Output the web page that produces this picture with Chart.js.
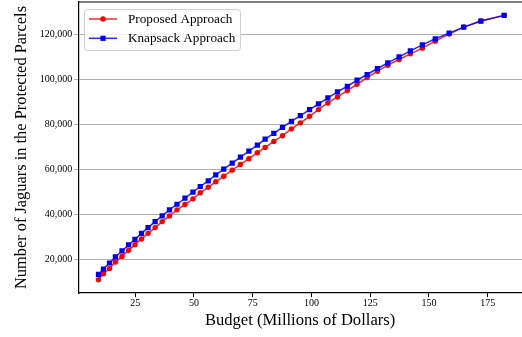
<!DOCTYPE html>
<html>
<head>
<meta charset="utf-8">
<script src="https://cdn.jsdelivr.net/npm/chart.js@4"></script>
<style>
  html, body { margin: 0; padding: 0; background: #fff; }
  #wrap { width: 522px; height: 337px; }
</style>
</head>
<body>
<div id="wrap"><canvas id="jaguar-chart" width="522" height="337"></canvas></div>
<script>
// values
const budget = [9.4, 11.5, 14.1, 16.6, 19.4, 22.2, 24.9, 27.7, 30.5, 33.5, 36.5, 39.6, 42.8, 46.2, 49.6,
  52.7, 56.1, 59.3, 62.7, 66.3, 69.8, 73.4, 77.0, 80.3, 84.0, 87.7, 91.5, 95.3, 99.2, 103.0,
  107.0, 111.1, 115.3, 119.4, 123.7, 128.1, 132.5, 137.3, 142.1, 147.2, 152.7, 158.6, 164.8, 172.1, 182.0];

const proposed = [10940, 13620, 15980, 18840, 21340, 24020, 26560, 29110, 31600, 34150, 36830, 39370, 42050, 44420, 46960,
  49640, 52140, 54550, 57050, 59730, 62270, 64820, 67500, 69860, 72540, 75080, 78120, 80800, 83700, 86690,
  89640, 92320, 95170, 97980, 100980, 103790, 106470, 109010, 111510, 114050, 117180, 120310, 123430, 126110, 128650];

const knapsack = [13300, 15710, 18390, 21070, 23750, 26430, 28930, 31600, 34150, 36830, 39370, 42050, 44550, 47230, 49910,
  52450, 55000, 57670, 60170, 62850, 65530, 68210, 70890, 73570, 76110, 78790, 81470, 84010, 86690, 89190,
  91870, 94550, 97090, 99770, 102320, 104990, 107490, 110170, 112850, 115530, 118210, 120750, 123430, 126110, 128650];

const xTicks = [25, 50, 75, 100, 125, 150, 175];
const yTicks = [20000, 40000, 60000, 80000, 100000, 120000];

const seriesNames = ["Proposed Approach", "Knapsack Approach"];

const serif = "'Liberation Serif', 'DejaVu Serif', 'Times New Roman', serif";

function pts(ys) {
  return budget.map((b, i) => ({ x: b, y: ys[i] }));
}

// matplotlib style legend box + top spine
const legendBox = {
  id: 'legendBox',
  afterDraw(chart) {
    const ctx = chart.ctx;
    const area = chart.chartArea;
    ctx.save();
    // top spine
    ctx.strokeStyle = '#000';
    ctx.lineWidth = 1.2;
    ctx.beginPath();
    ctx.moveTo(area.left, area.top);
    ctx.lineTo(area.right, area.top);
    ctx.stroke();

    // box
    const bx = 84.5, by = 9.5, bw = 156, bh = 41, r = 3;
    ctx.beginPath();
    ctx.moveTo(bx + r, by);
    ctx.arcTo(bx + bw, by, bx + bw, by + bh, r);
    ctx.arcTo(bx + bw, by + bh, bx, by + bh, r);
    ctx.arcTo(bx, by + bh, bx, by, r);
    ctx.arcTo(bx, by, bx + bw, by, r);
    ctx.closePath();
    ctx.fillStyle = 'rgba(255,255,255,0.8)';
    ctx.fill();
    ctx.strokeStyle = '#d0d0d0';
    ctx.lineWidth = 1;
    ctx.stroke();

    const rows = [19, 38.3];
    chart.data.datasets.forEach((ds, i) => {
      const y = rows[i];
      ctx.strokeStyle = ds.borderColor;
      ctx.lineWidth = 1.5;
      ctx.beginPath();
      ctx.moveTo(89, y);
      ctx.lineTo(117, y);
      ctx.stroke();
      ctx.fillStyle = ds.pointBackgroundColor;
      if (ds.pointStyle === 'rect') {
        ctx.fillRect(103 - 2.6, y - 2.6, 5.2, 5.2);
      } else {
        ctx.beginPath();
        ctx.arc(103, y, 2.7, 0, Math.PI * 2);
        ctx.fill();
      }
      ctx.fillStyle = '#000';
      ctx.font = '13.2px ' + serif;
      ctx.textBaseline = 'middle';
      ctx.fillText(ds.label, 128, y + 0.5);
    });
    ctx.restore();
  }
};

const ctx = document.getElementById('jaguar-chart').getContext('2d');

new Chart(ctx, {
  type: 'line',
  data: {
    datasets: [{
      label: seriesNames[0],
      data: pts(proposed),
      borderColor: 'rgba(255,0,0,0.85)',
      backgroundColor: '#ff0000',
      pointBackgroundColor: '#ff0000',
      pointBorderWidth: 0,
      pointStyle: 'circle',
      pointRadius: 2.7,
      borderWidth: 1.5,
      order: 2
    }, {
      label: seriesNames[1],
      data: pts(knapsack),
      borderColor: 'rgba(0,0,255,0.85)',
      backgroundColor: '#0000ff',
      pointBackgroundColor: '#0000ff',
      pointBorderWidth: 0,
      pointStyle: 'rect',
      pointRadius: 3.7,
      borderWidth: 1.5,
      order: 1
    }]
  },
  options: {
    responsive: false,
    animation: false,
    layout: { autoPadding: false, padding: { top: 2, right: 0, left: 0, bottom: 0 } },
    plugins: {
      legend: { display: false },
      tooltip: { enabled: false }
    },
    scales: {
      x: {
        type: 'linear',
        min: 0.76,
        max: 189.6,
        afterBuildTicks: (scale) => { scale.ticks = xTicks.map(v => ({ value: v })); },
        grid: { drawOnChartArea: false, color: '#000', tickLength: 4 },
        border: { color: '#000', width: 1.2 },
        ticks: {
          color: '#000',
          padding: 0,
          maxRotation: 0,
          font: { family: serif, size: 10 }
        },
        title: {
          display: true,
          text: 'Budget (Millions of Dollars)',
          color: '#000',
          font: { family: serif, size: 16.6 },
          padding: { top: 2, bottom: 6 }
        }
      },
      y: {
        min: 5000,
        max: 134600,
        afterBuildTicks: (scale) => { scale.ticks = yTicks.map(v => ({ value: v })); },
        afterFit: (scale) => { scale.paddingTop = 0; scale.paddingBottom = 0; },
        grid: { color: '#b0b0b0', lineWidth: 1, tickLength: 4 },
        border: { color: '#000', width: 1.2 },
        ticks: {
          color: '#000',
          padding: 2,
          font: { family: serif, size: 10 },
          callback: (v) => v.toLocaleString('en-US')
        },
        title: {
          display: true,
          text: 'Number of Jaguars in the Protected Parcels',
          color: '#000',
          font: { family: serif, size: 16.4 },
          padding: { top: 12, bottom: 6 }
        }
      }
    }
  },
  plugins: [legendBox]
});
</script>
</body>
</html>
